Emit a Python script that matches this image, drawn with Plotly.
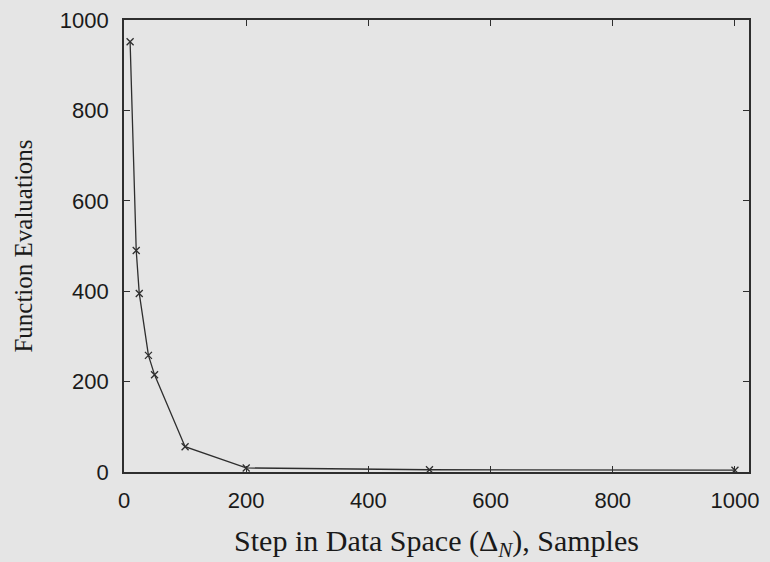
import plotly.graph_objects as go

step_samples = [10, 20, 25, 40, 50, 100, 200, 500, 1000]
function_evals = [952, 490, 395, 258, 215, 56, 9, 5, 4]

x_ticks = [0, 200, 400, 600, 800, 1000]
y_ticks = [0, 200, 400, 600, 800, 1000]

bg = "#e5e5e5"
ink = "#2e2e2e"
serif = "Liberation Serif, DejaVu Serif, serif"

fig = go.Figure()
fig.add_trace(go.Scatter(
    x=step_samples, y=function_evals,
    mode="lines+markers",
    line=dict(color=ink, width=1.3),
    marker=dict(symbol="x-thin", size=7, line=dict(color=ink, width=1.3)),
    showlegend=False,
))

axis_common = dict(
    showgrid=False, zeroline=False, automargin=False,
    showline=True, linecolor=ink, linewidth=1.6, mirror="allticks",
    ticks="inside", ticklen=6, tickwidth=1.3, tickcolor=ink,
    tickfont=dict(family="Liberation Sans, Arial, sans-serif", size=22, color="#1a1a1a"),
)

fig.update_layout(
    width=770, height=562,
    margin=dict(l=124, r=21, t=20, b=90),
    paper_bgcolor=bg, plot_bgcolor=bg,
    xaxis=dict(
        range=[0, 1023], tickvals=x_ticks, ticktext=[str(v) for v in x_ticks],
        ticklabelstandoff=8,
        title=dict(text="Step in Data Space (Δ<sub><i>N</i></sub>), Samples",
                   font=dict(family=serif, size=30, color="#1a1a1a"),
                   standoff=26),
        **axis_common,
    ),
    yaxis=dict(
        range=[0, 1000], tickvals=y_ticks, ticktext=[str(v) for v in y_ticks],
        ticklabelstandoff=9,
        title=dict(text="Function Evaluations",
                   font=dict(family=serif, size=25, color="#1a1a1a"),
                   standoff=20),
        **axis_common,
    ),
)

fig.write_html(
    "out.html",
    config={"displayModeBar": False},
    post_script="document.body.style.margin='0';document.body.style.background='%s';" % bg,
)
